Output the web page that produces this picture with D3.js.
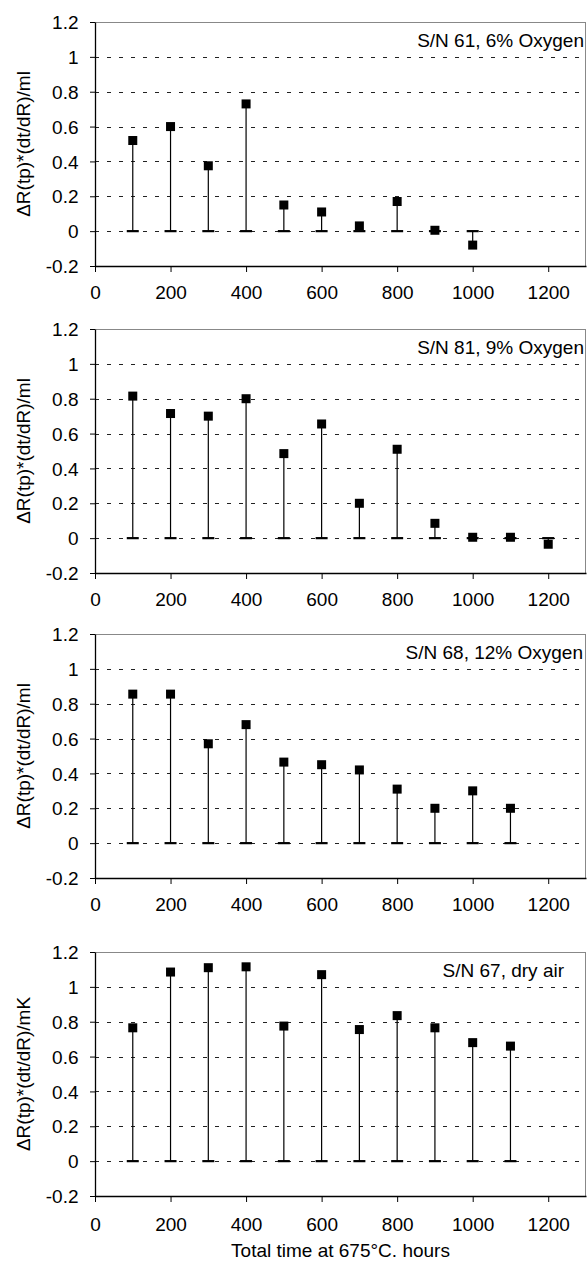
<!DOCTYPE html>
<html>
<head>
<meta charset="utf-8">
<script src="https://cdn.jsdelivr.net/npm/d3@7/dist/d3.min.js"></script>
<style>
  body { margin: 0; background: #fff; }
  svg { display: block; }
  text { font-family: "Liberation Sans", Arial, sans-serif; fill: #000; }
</style>
</head>
<body>
<div id="chart"></div>
<script>
// ---- data ----
const hours = [100, 200, 300, 400, 500, 600, 700, 800, 900, 1000, 1100, 1200];

const oxygen6  = [0.52, 0.60, 0.375, 0.73, 0.15, 0.11, 0.03, 0.17, 0.005, -0.08];
const oxygen9  = [0.815, 0.715, 0.70, 0.80, 0.485, 0.655, 0.20, 0.51, 0.085, 0.005, 0.005, -0.035];
const oxygen12 = [0.855, 0.855, 0.57, 0.68, 0.465, 0.45, 0.42, 0.31, 0.20, 0.30, 0.20];
const dryAir   = [0.765, 1.085, 1.11, 1.115, 0.775, 1.07, 0.755, 0.835, 0.765, 0.68, 0.66];

const panelNotes = ['S/N 61, 6% Oxygen', 'S/N 81, 9% Oxygen', 'S/N 68, 12% Oxygen', 'S/N 67, dry air'];
const yLabels = ['ΔR(tp)*(dt/dR)/ml', 'ΔR(tp)*(dt/dR)/ml', 'ΔR(tp)*(dt/dR)/ml', 'ΔR(tp)*(dt/dR)/mK'];
const xTicks = [0, 200, 400, 600, 800, 1000, 1200];
const yTicks = [-0.2, 0, 0.2, 0.4, 0.6, 0.8, 1, 1.2];
const xTitle = 'Total time at 675°C. hours';

const series = [oxygen6, oxygen9, oxygen12, dryAir];

// ---- layout ----
const width = 587, height = 1263;
const left = 95, right = 586;
const panelTops = [22, 329, 634, 952];
const panelH = 244;
const noteRight = [584, 584, 583, 564];
const xLabelOffset = [33, 33, 33, 35];
const FS = 19;

const svg = d3.select('#chart').append('svg')
  .attr('width', width)
  .attr('height', height);

const x = d3.scaleLinear().domain([0, 1300]).range([left, right]);

function addText(g, tx, ty, str, anchor, rot) {
  return g.append('text')
    .attr('transform', `translate(${tx},${ty})` + (rot ? ` rotate(${rot})` : ''))
    .attr('text-anchor', anchor)
    .style('font-size', FS + 'px')
    .text(str);
}

series.forEach((vals, p) => {
  const top = panelTops[p];
  const y = d3.scaleLinear().domain([-0.2, 1.2]).range([top + panelH, top]);
  const g = svg.append('g').attr('class', 'panel');

  // grid lines
  g.append('g').selectAll('line')
    .data(yTicks.filter(t => t > -0.2))
    .join('line')
      .attr('x1', left).attr('x2', right)
      .attr('y1', d => Math.round(y(d)) + 0.5).attr('y2', d => Math.round(y(d)) + 0.5)
      .attr('stroke', d => d === 1.2 ? '#888' : '#222')
      .attr('stroke-width', 1)
      .attr('stroke-dasharray', d => d === 1.2 ? null : '4,8');

  // right border
  g.append('line')
    .attr('x1', right - 0.5).attr('x2', right - 0.5)
    .attr('y1', y(1.2)).attr('y2', y(-0.2))
    .attr('stroke', '#888');

  // axes
  const yAxis = g.append('g')
    .attr('transform', `translate(${left},0)`)
    .call(d3.axisLeft(y).tickValues(yTicks).tickSize(5).tickSizeOuter(0)
      .tickFormat(d => String(+d.toFixed(1))));
  const xAxis = g.append('g')
    .attr('transform', `translate(0,${y(-0.2)})`)
    .call(d3.axisBottom(x).tickValues(xTicks).tickSize(6).tickSizeOuter(0)
      .tickFormat(d => String(d)));

  [yAxis, xAxis].forEach(a => {
    a.select('.domain').attr('stroke', '#000').attr('stroke-width', 1.3);
    a.selectAll('.tick line').attr('stroke', '#000');
    a.selectAll('text').style('font-size', FS + 'px').attr('fill', '#000');
  });
  yAxis.selectAll('text')
    .attr('x', -16.5).attr('dy', '0.35em');
  xAxis.selectAll('text')
    .attr('y', xLabelOffset[p]).attr('dy', 0);

  // y label
  addText(g, 30, top + panelH / 2, yLabels[p], 'middle', -90);

  // note
  addText(g, noteRight[p], top + 25, panelNotes[p], 'end');

  const pts = vals.map((v, i) => ({ h: hours[i], v }));

  // drop lines to zero
  g.append('g').selectAll('line')
    .data(pts)
    .join('line')
      .attr('x1', d => x(d.h)).attr('x2', d => x(d.h))
      .attr('y1', y(0)).attr('y2', d => y(d.v))
      .attr('stroke', '#000').attr('stroke-width', 1.2);

  // caps at zero
  g.append('g').selectAll('line')
    .data(pts)
    .join('line')
      .attr('x1', d => x(d.h) - 6).attr('x2', d => x(d.h) + 6)
      .attr('y1', y(0)).attr('y2', y(0))
      .attr('stroke', '#000').attr('stroke-width', 2.2);

  // markers
  g.append('g').selectAll('rect')
    .data(pts)
    .join('rect')
      .attr('x', d => x(d.h) - 4.5).attr('y', d => y(d.v) - 4.5)
      .attr('width', 9).attr('height', 9)
      .attr('fill', '#000');
});

// x title
addText(svg, (left + right) / 2, 1257, xTitle, 'middle');
</script>
</body>
</html>
